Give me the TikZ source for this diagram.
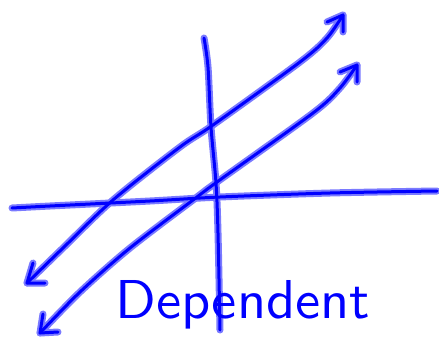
\documentclass[tikz,border=0pt]{standalone}
\usepackage{graphicx}
\begin{document}
\begin{tikzpicture}[x=1pt,y=-1pt,
  ink/.style={draw=blue!20!white!60!blue, line width=7pt, line cap=round, line join=round},
  core/.style={draw=blue, line width=3pt, line cap=round, line join=round}]
\useasboundingbox (0,0) rectangle (439,345);
% paths as macros
\def\haxis{plot[smooth] coordinates {(12,208) (50,206) (150,201) (220,197) (330,193) (437,191)}}
\def\vaxis{plot[smooth] coordinates {(204,38) (208,67) (211,127) (216,183) (218,233) (220,330)}}
\def\lineA{plot[smooth] coordinates {(27,283) (63,248) (113,200) (180,147) (213,125) (300,62) (327,38) (343,15)}}
\def\headAt{(327,22) -- (343,15) -- (343,32)}
\def\headAb{(33,263) -- (27,283) -- (45,283)}
\def\lineB{plot[smooth] coordinates {(40,333) (80,292) (130,248) (197,197) (217,182) (313,113) (340,88) (357,65)}}
\def\headBt{(340,72) -- (357,65) -- (357,82)}
\def\headBb{(43,314) -- (40,333) -- (58,332)}
\foreach \s in {ink,core}{
  \draw[\s] \haxis;
  \draw[\s] \vaxis;
  \draw[\s] \lineA;
  \draw[\s] \headAt;
  \draw[\s] \headAb;
  \draw[\s] \lineB;
  \draw[\s] \headBt;
  \draw[\s] \headBb;
}
\node[text=blue, anchor=west, inner sep=0pt] (lbl) at (115,305) {\resizebox{255pt}{38pt}{\sffamily Dependent}};
\end{tikzpicture}
\end{document}
